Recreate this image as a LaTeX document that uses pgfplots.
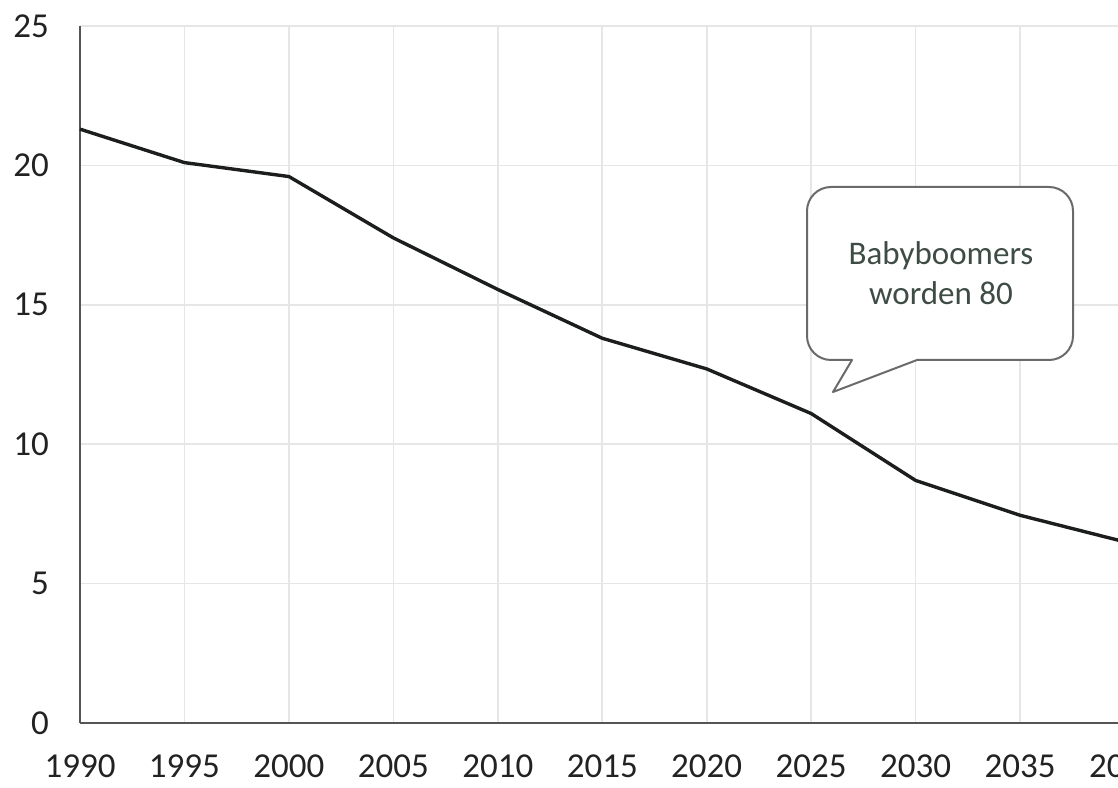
\documentclass[border=0pt]{standalone}
\usepackage{pgfplots}
\pgfplotsset{compat=1.18}
\usepackage{fontspec}
\setmainfont{Carlito}
\definecolor{gridc}{HTML}{E6E6E6}
\definecolor{axisc}{HTML}{555555}
\definecolor{labc}{HTML}{222222}
\definecolor{callc}{HTML}{3E4C45}
\definecolor{boxc}{HTML}{6A6A6A}
\definecolor{linec}{HTML}{1C1E1D}
\begin{document}
\begin{tikzpicture}
\path[use as bounding box, clip] (0pt,0pt) rectangle (559pt,393.5pt);
\begin{axis}[
  at={(40pt,32pt)}, anchor=south west,
  scale only axis, width=522.25pt, height=348.5pt,
  xmin=1990, xmax=2040, ymin=0, ymax=25,
  xtick={1990,1995,...,2040}, ytick={0,5,...,25},
  axis lines=left, axis line style={-, draw=axisc, line width=1.1pt},
  x axis line style={line width=1.4pt},
  major tick length=0pt,
  grid=major, major grid style={draw=gridc, line width=0.8pt},
  /pgf/number format/1000 sep={},
  /pgf/number format/assume math mode=true,
  tick label style={font=\fontsize{17.5}{21}\selectfont, text=labc},
  xticklabel style={yshift=-12.5pt},
  yticklabel style={xshift=-12pt},
  clip=false,
]
\addplot[linec, line width=1.7pt, line join=round, mark=none] coordinates {
  (1990,21.3) (1995,20.1) (2000,19.6) (2005,17.4) (2010,15.55) (2015,13.8)
  (2020,12.7) (2025,11.1) (2030,8.7) (2035,7.45) (2040,6.5)
};
\end{axis}
\def\r{12pt}
\draw[boxc, line width=1pt, fill=white, line join=round]
  (426pt,213.5pt) -- (415.5pt,213.5pt) arc[start angle=270, end angle=180, radius=\r]
  -- (403.5pt,288pt) arc[start angle=180, end angle=90, radius=\r]
  -- (524.5pt,300pt) arc[start angle=90, end angle=0, radius=\r]
  -- (536.5pt,225.5pt) arc[start angle=0, end angle=-90, radius=\r]
  -- (458.5pt,213.5pt) -- (416.5pt,197.5pt) -- cycle;
\node[align=center, text=callc, font=\fontsize{16.5}{20}\selectfont] at (470.5pt,257pt) {Babyboomers\\worden 80};
\end{tikzpicture}
\end{document}
